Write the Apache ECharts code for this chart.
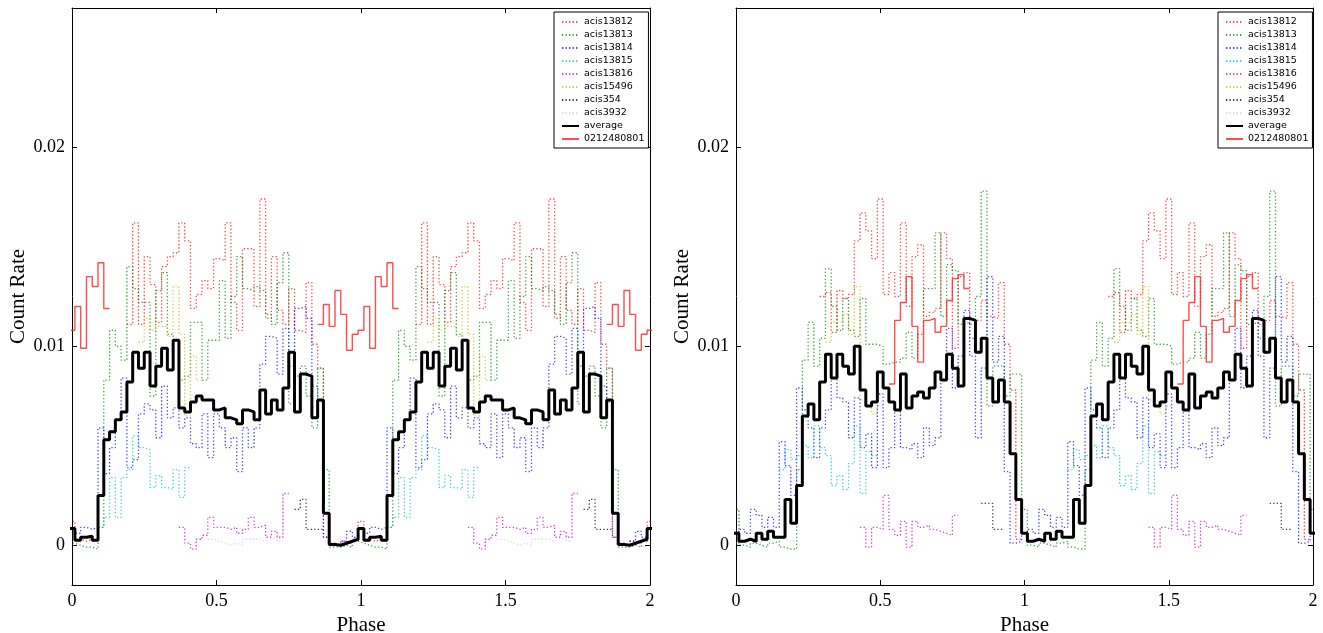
<!DOCTYPE html>
<html>
<head>
<meta charset="utf-8">
<script src="https://cdn.jsdelivr.net/npm/echarts@6.0.0/dist/echarts.min.js"></script>
<style>
  html, body { margin: 0; padding: 0; background: #fff; }
  #chart { width: 1323px; height: 633px; }
</style>
</head>
<body>
<div id="chart"></div>
<script>
var _ = null;

// folded light curve: 50 phase bins per cycle, drawn twice (phase 0-2)
var BIN = 0.02;
var NBINS = 50;
var X_TICKS = [0, 0.5, 1, 1.5, 2];
var Y_TICKS = [0, 0.01, 0.02];

var NAMES = ['acis13812', 'acis13813', 'acis13814', 'acis13815', 'acis13816', 'acis15496', 'acis354', 'acis3932'];
var COLORS = ['#ff0000', '#008000', '#0000ff', '#00bfbf', '#bf00bf', '#bfbf00', '#000000', '#cccccc'];

// ---- left panel ----
var L13812 = [0.0012,0.0003,0.0002,0.0003,0.0002,_,_,_,_,_,
  0.0111,0.0162,0.0111,0.0145,0.0131,0.0112,0.0140,0.0145,0.0147,0.0162,
  0.0153,0.0119,0.0126,0.0133,0.0129,0.0144,0.0143,0.0162,0.0122,0.0108,
  0.0149,0.0149,0.0120,0.0174,0.0114,0.0145,0.0118,0.0111,0.0129,0.0108,
  0.0107,0.0132,0.0101,0.0089,0.0004,0.0001,0.0000,0.0002,0.0001,0.0003];
var L13813 = [0.0001,0.0000,-0.0001,-0.0001,-0.0002,0.0009,0.0083,0.0108,0.0100,0.0093,
  0.0140,0.0129,0.0122,0.0122,0.0075,0.0128,0.0137,0.0106,0.0103,0.0083,
  0.0085,0.0112,0.0112,0.0083,0.0103,0.0103,0.0133,0.0104,0.0125,0.0145,
  0.0129,0.0128,0.0130,0.0128,0.0116,0.0111,0.0132,0.0147,0.0071,0.0085,
  0.0090,0.0075,0.0059,0.0089,0.0038,-0.0001,-0.0001,0.0000,-0.0001,0.0002];
var L13814 = [0.0008,0.0006,0.0009,0.0008,0.0009,0.0059,0.0036,0.0049,0.0063,0.0084,
  0.0039,0.0043,0.0066,0.0071,0.0068,0.0054,0.0080,0.0064,0.0069,0.0059,
  0.0064,0.0051,0.0049,0.0066,0.0044,0.0066,0.0059,0.0049,0.0054,0.0037,
  0.0059,0.0049,0.0059,0.0091,0.0105,0.0104,0.0086,0.0109,0.0090,0.0119,
  0.0120,0.0114,0.0080,0.0072,0.0004,0.0000,0.0000,0.0002,0.0007,0.0004];
var L13815 = [_,_,_,_,_,0.0009,0.0014,0.0034,0.0014,0.0034,
  0.0038,0.0055,0.0049,0.0048,0.0029,0.0035,0.0029,0.0028,0.0038,0.0024,
  0.0039,_,_,_,_,_,_,_,_,_,
  _,_,_,_,_,_,_,_,_,_,
  _,_,_,_,_,_,_,_,_,_];
var L13816 = [_,_,_,_,_,_,_,_,_,_,
  _,_,_,_,_,_,_,_,_,0.0009,
  0.0001,-0.0002,0.0003,0.0005,0.0014,0.0009,0.0009,0.0008,0.0009,0.0006,
  0.0008,0.0014,0.0009,0.0010,0.0004,0.0007,0.0004,0.0026,_,_,
  _,_,_,_,_,_,_,_,_,_];
var L15496 = [_,_,_,_,_,_,_,_,_,_,
  _,_,0.0102,0.0114,0.0108,0.0110,0.0110,0.0105,0.0130,0.0106,
  0.0065,0.0095,0.0083,_,_,_,_,_,_,_,
  _,_,_,_,_,_,_,_,_,_,
  _,_,_,_,_,_,_,_,_,_];
var L354 = [_,_,_,_,_,_,_,_,_,_,
  _,_,_,_,_,_,_,_,_,_,
  _,_,_,_,_,_,_,_,_,_,
  _,_,_,_,_,_,_,_,_,0.0018,
  0.0023,0.0008,0.0008,0.0008,_,_,_,_,_,_];
var L3932 = [_,_,_,_,_,_,_,_,_,_,
  _,_,_,_,_,_,_,_,_,_,
  _,_,_,_,0.0003,0.0002,0.0001,0.0000,0.0001,0.0000,
  0.0003,0.0003,0.0003,0.0002,0.0003,0.0004,0.0002,_,_,_,
  _,_,_,_,_,_,_,_,_,_];
var LAVG = [0.00084,0.00025,0.0004,0.00045,0.00025,0.0025,0.0053,0.0057,0.0063,0.0067,
  0.0082,0.0097,0.0089,0.0097,0.0080,0.0090,0.0099,0.0088,0.0103,0.0069,
  0.0067,0.0072,0.0075,0.0073,0.0073,0.0068,0.0069,0.0064,0.0063,0.0061,
  0.0068,0.0067,0.0063,0.0078,0.0066,0.0073,0.0068,0.0079,0.0097,0.0067,
  0.0086,0.0085,0.0064,0.0073,0.0016,0.00003,0.0000,0.0001,0.0002,0.0003];
var LXMM = [0.0108,0.0120,0.0099,0.0135,0.0130,0.0142,0.0119,_,_,_,
  _,_,_,_,_,_,_,_,_,_,
  _,_,_,_,_,_,_,_,_,_,
  _,_,_,_,_,_,_,_,_,_,
  _,_,_,0.0111,0.0121,0.0110,0.0128,0.0116,0.0098,0.0106];

// ---- right panel ----
var R13812 = [_,_,_,_,_,_,_,_,_,_,
  _,_,_,_,_,0.0125,0.0127,0.0107,0.0128,0.0124,
  0.0126,0.0153,0.0167,0.0158,0.0144,0.0174,0.0126,0.0137,0.0125,0.0162,
  0.0120,0.0145,0.0151,0.0115,0.0117,0.0119,0.0157,0.0144,0.0099,0.0135,
  0.0137,0.0111,0.0113,0.0123,0.0115,0.0114,0.0132,0.0101,0.0078,0.0003];
var R13813 = [0.0018,0.0000,-0.0001,0.0001,0.0000,-0.0001,0.0001,0.0002,-0.0001,-0.0002,
  -0.0002,0.0038,0.0093,0.0112,0.0090,0.0104,0.0139,0.0120,0.0108,0.0124,
  0.0108,0.0105,0.0124,0.0101,0.0101,0.0100,0.0091,0.0092,0.0092,0.0094,
  0.0107,0.0094,0.0106,0.0129,0.0129,0.0157,0.0115,0.0141,0.0138,0.0111,
  0.0112,0.0104,0.0125,0.0178,0.0070,0.0090,0.0090,0.0075,0.0086,0.0086];
var R13814 = [0.0006,0.0008,0.0006,0.0018,0.0015,0.0009,0.0014,0.0009,0.0052,0.0040,
  0.0025,0.0079,0.0068,0.0059,0.0044,0.0059,0.0068,0.0084,0.0074,0.0072,
  0.0054,0.0074,0.0049,0.0056,0.0039,0.0076,0.0039,0.0049,0.0068,0.0049,
  0.0048,0.0051,0.0044,0.0059,0.0050,0.0054,0.0083,0.0109,0.0079,0.0095,
  0.0118,0.0095,0.0054,0.0089,0.0135,0.0092,0.0105,0.0037,0.0001,0.0002];
var R13815 = [_,_,_,_,_,_,_,_,0.0038,0.0048,
  0.0043,0.0045,0.0050,0.0044,0.0060,0.0049,0.0045,0.0030,0.0035,0.0028,
  0.0041,0.0060,0.0026,0.0047,0.0045,_,_,_,_,_,
  _,_,_,_,_,_,_,_,_,_,
  _,_,_,_,_,_,_,_,_,_];
var R13816 = [_,_,_,_,_,_,_,_,_,_,
  _,_,_,_,_,_,_,_,_,_,
  _,_,0.0009,-0.0001,0.0009,0.0008,0.0025,0.0008,0.0005,0.0012,
  -0.0001,0.0012,0.0009,0.0010,0.0008,0.0007,0.0006,0.0005,0.0015,_,
  _,_,_,_,_,_,_,_,_,_];
var R15496 = [_,_,_,_,_,_,_,_,_,_,
  _,_,_,_,_,_,0.0102,0.0112,0.0112,0.0116,
  0.0106,0.0130,0.0073,0.0070,0.0066,0.0070,_,_,_,_,
  _,_,_,_,_,_,_,_,_,_,
  _,_,_,_,_,_,_,_,_,_];
var R354 = [_,_,_,_,_,_,_,_,_,_,
  _,_,_,_,_,_,_,_,_,_,
  _,_,_,_,_,_,_,_,_,_,
  _,_,_,_,_,_,_,_,_,_,
  _,_,_,0.0021,0.0021,0.0008,0.0008,_,_,_];
var R3932 = [0.0001,0.0002,0.0003,0.0002,0.0001,0.0003,0.0002,0.0004,0.0003,0.0002,
  0.0002,_,_,_,_,_,_,_,_,_,
  _,_,_,_,_,_,_,_,_,_,
  _,_,_,_,_,_,_,_,_,_,
  _,_,_,_,_,_,_,_,_,_];
var RAVG = [0.0006,0.0002,0.0003,0.0002,0.0006,0.0003,0.0007,0.0004,0.0004,0.0023,
  0.0011,0.0030,0.0065,0.0071,0.0063,0.0082,0.0096,0.0084,0.0096,0.0090,
  0.0086,0.0100,0.0078,0.0070,0.0072,0.0087,0.0079,0.0072,0.0068,0.0086,
  0.0069,0.0075,0.0077,0.0074,0.0079,0.0087,0.0083,0.0096,0.0089,0.0080,
  0.0114,0.0113,0.0097,0.0104,0.0084,0.0072,0.0083,0.0072,0.0046,0.0023];
var RXMM = [_,_,_,_,_,_,_,_,_,_,
  _,_,_,_,_,_,_,_,_,_,
  _,_,_,_,_,_,_,0.0081,0.0113,0.0122,
  0.0135,0.0110,0.0092,0.0113,0.0114,0.0107,0.0110,0.0123,0.0134,0.0136,
  0.0129,_,_,_,_,_,_,_,_,_];

var panels = [
  { acis: [L13812, L13813, L13814, L13815, L13816, L15496, L354, L3932], avg: LAVG, xmm: LXMM },
  { acis: [R13812, R13813, R13814, R13815, R13816, R15496, R354, R3932], avg: RAVG, xmm: RXMM }
];

// one cycle -> two cycles of bins; each bin drawn flat over its width
function stepData(cycle) {
    var pts = [];
    for (var i = 0; i <= 2 * NBINS; i++) {
        var v = cycle[i % NBINS];
        var c = i * BIN;
        if (v === null) {
            pts.push([c, null]);
            continue;
        }
        pts.push([c - BIN / 2, v], [c + BIN / 2, v]);
    }
    return pts;
}

var SERIF = 'Liberation Serif';
var LEGEND_NAMES = NAMES.concat(['average', '0212480801']);
var grids = [
    { left: 72, top: 8, width: 578, height: 577, outerBoundsMode: 'none', containLabel: false },
    { left: 736, top: 8, width: 577, height: 577, outerBoundsMode: 'none', containLabel: false }
];

var xAxes = [], yAxes = [], series = [], legends = [];
panels.forEach(function (p, g) {
    // bottom + top x axes
    xAxes.push({
        gridIndex: g, type: 'value', min: 0, max: 2, interval: 0.5, position: 'bottom',
        axisLine: { onZero: false, lineStyle: { color: '#000', width: 1 } },
        axisTick: { inside: true, length: 5, lineStyle: { color: '#000' } },
        axisLabel: { color: '#000', fontSize: 18, fontFamily: SERIF, margin: 7 },
        splitLine: { show: false },
        name: 'Phase', nameLocation: 'middle', nameGap: 28,
        nameTextStyle: { color: '#000', fontSize: 21, fontFamily: SERIF }
    });
    xAxes.push({
        gridIndex: g, type: 'value', min: 0, max: 2, interval: 0.5, position: 'top',
        axisLine: { onZero: false, lineStyle: { color: '#000', width: 1 } },
        axisTick: { inside: true, length: 5, lineStyle: { color: '#000' } },
        axisLabel: { show: false },
        splitLine: { show: false }
    });
    // left + right y axes
    yAxes.push({
        gridIndex: g, type: 'value', min: -0.002, max: 0.027, position: 'left',
        axisLine: { show: true, onZero: false, lineStyle: { color: '#000', width: 1 } },
        axisTick: { show: true, inside: true, length: 5, customValues: Y_TICKS, lineStyle: { color: '#000' } },
        axisLabel: {
            customValues: Y_TICKS, color: '#000', fontSize: 18, fontFamily: SERIF, margin: 7,
            formatter: function (v) { return v === 0 ? '0' : String(+v.toFixed(2)); }
        },
        splitLine: { show: false },
        name: 'Count Rate', nameLocation: 'middle', nameGap: 43,
        nameTextStyle: { color: '#000', fontSize: 21, fontFamily: SERIF }
    });
    yAxes.push({
        gridIndex: g, type: 'value', min: -0.002, max: 0.027, position: 'right',
        axisLine: { show: true, onZero: false, lineStyle: { color: '#000', width: 1 } },
        axisTick: { show: true, inside: true, length: 5, customValues: Y_TICKS, lineStyle: { color: '#000' } },
        axisLabel: { show: false },
        splitLine: { show: false }
    });

    p.acis.forEach(function (cycle, j) {
        series.push({
            name: NAMES[j], type: 'line', xAxisIndex: 2 * g, yAxisIndex: 2 * g,
            data: stepData(cycle), symbol: 'none', silent: true, z: 2,
            itemStyle: { color: COLORS[j] },
            lineStyle: { color: COLORS[j], width: 1.3, type: [1.3, 2.2], opacity: 0.75 }
        });
    });
    series.push({
        name: 'average', type: 'line', xAxisIndex: 2 * g, yAxisIndex: 2 * g,
        data: stepData(p.avg), symbol: 'none', silent: true, z: 3,
        itemStyle: { color: '#000' },
        lineStyle: { color: '#000', width: 3 }
    });
    series.push({
        name: '0212480801', type: 'line', xAxisIndex: 2 * g, yAxisIndex: 2 * g,
        data: stepData(p.xmm), symbol: 'none', silent: true, z: 4,
        itemStyle: { color: '#ff3030' },
        lineStyle: { color: '#ff2020', width: 1.4, opacity: 0.8 }
    });

    legends.push({
        left: g === 0 ? 554 : 1218, top: 12, orient: 'vertical',
        data: LEGEND_NAMES, selectedMode: false,
        itemWidth: 17, itemHeight: 9, itemGap: 3,
        padding: [5, 4, 4, 7],
        itemStyle: { opacity: 0 },
        backgroundColor: '#fff', borderColor: '#000', borderWidth: 1, borderRadius: 0,
        textStyle: { color: '#000', fontSize: 9.5, lineHeight: 9, fontFamily: 'DejaVu Sans' }
    });
});

var chart = echarts.init(document.getElementById('chart'));
chart.setOption({
    animation: false,
    backgroundColor: '#fff',
    grid: grids,
    xAxis: xAxes,
    yAxis: yAxes,
    legend: legends,
    series: series
});
</script>
</body>
</html>
